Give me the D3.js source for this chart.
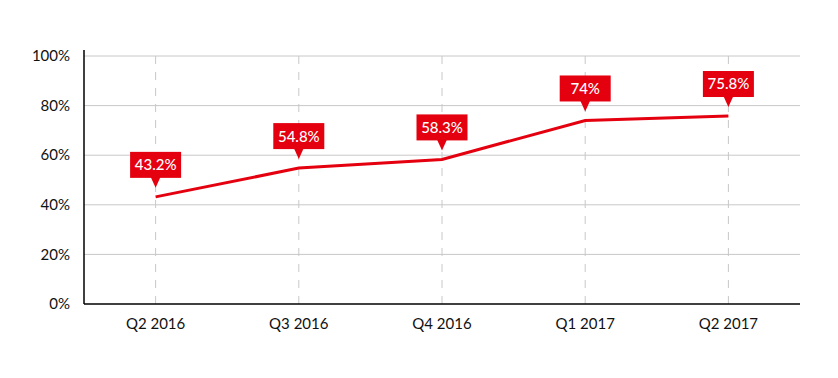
<!DOCTYPE html>
<html>
<head>
<meta charset="UTF-8">
<script src="https://d3js.org/d3.v7.min.js"></script>
<style>
  body { margin: 0; background: #fff; }
  text { font-family: Lato, "Open Sans", sans-serif; }
</style>
</head>
<body>
<script>
var width = 838, height = 378;

// data
var quarters = ['Q2 2016', 'Q3 2016', 'Q4 2016', 'Q1 2017', 'Q2 2017'];
var values = [43.2, 54.8, 58.3, 74, 75.8];
var labels = ['43.2%', '54.8%', '58.3%', '74%', '75.8%'];
var yTicks = [0, 20, 40, 60, 80, 100];

var red = '#e4000f';
var plotLeft = 84, plotRight = 800, plotTop = 56, plotBottom = 304;

var svg = d3.select('body').append('svg')
  .attr('width', width).attr('height', height);

var x = d3.scalePoint().domain(quarters).range([plotLeft, plotRight]).padding(0.5);
var y = d3.scaleLinear().domain([0, 100]).range([plotBottom, plotTop]);

// horizontal grid
svg.append('g').selectAll('line')
  .data(yTicks.filter(function(d) { return d > 0; }))
  .join('line')
  .attr('x1', plotLeft).attr('x2', plotRight)
  .attr('y1', function(d) { return y(d); })
  .attr('y2', function(d) { return y(d); })
  .attr('stroke', '#c8c8c8').attr('stroke-width', 1);

// vertical dashed lines
svg.append('g').selectAll('line')
  .data(quarters)
  .join('line')
  .attr('x1', function(d) { return x(d); })
  .attr('x2', function(d) { return x(d); })
  .attr('y1', plotTop).attr('y2', plotBottom)
  .attr('stroke', '#c8c8c8').attr('stroke-width', 1)
  .attr('stroke-dasharray', '8,8');

// y axis labels
svg.append('g').selectAll('text')
  .data(yTicks)
  .join('text')
  .attr('x', 70)
  .attr('y', function(d) { return y(d); })
  .attr('dy', '0.35em')
  .attr('text-anchor', 'end')
  .attr('font-size', 15)
  .attr('fill', '#111')
  .text(function(d) { return d + '%'; });

// x axis labels
svg.append('g').selectAll('text')
  .data(quarters)
  .join('text')
  .attr('x', function(d) { return x(d); })
  .attr('y', 329)
  .attr('text-anchor', 'middle')
  .attr('font-size', 15)
  .attr('fill', '#111')
  .text(function(d) { return d; });

// axes
svg.append('line')
  .attr('x1', plotLeft).attr('x2', plotLeft).attr('y1', 50).attr('y2', plotBottom)
  .attr('stroke', '#000').attr('stroke-width', 1.5);
svg.append('line')
  .attr('x1', plotLeft).attr('x2', plotRight).attr('y1', plotBottom).attr('y2', plotBottom)
  .attr('stroke', '#000').attr('stroke-width', 1.5);

// line
var line = d3.line()
  .x(function(d, i) { return x(quarters[i]); })
  .y(function(d) { return y(d); });

svg.append('path')
  .datum(values)
  .attr('d', line)
  .attr('fill', 'none')
  .attr('stroke', red)
  .attr('stroke-width', 3);

// callouts
var boxW = 51, boxH = 26;
var callouts = svg.append('g').selectAll('g')
  .data(values)
  .join('g')
  .attr('transform', function(d, i) {
    return 'translate(' + x(quarters[i]) + ',' + y(d) + ')';
  });

callouts.append('rect')
  .attr('x', -boxW / 2).attr('y', -19 - boxH)
  .attr('width', boxW).attr('height', boxH)
  .attr('fill', red);

callouts.append('path')
  .attr('d', 'M-5,-20 L5,-20 L0,-9 Z')
  .attr('fill', red);

callouts.append('text')
  .attr('x', 0).attr('y', -19 - boxH / 2)
  .attr('dy', '0.36em')
  .attr('text-anchor', 'middle')
  .attr('font-size', 15)
  .attr('font-weight', 500)
  .attr('fill', '#fff')
  .text(function(d, i) { return labels[i]; });
</script>
</body>
</html>
